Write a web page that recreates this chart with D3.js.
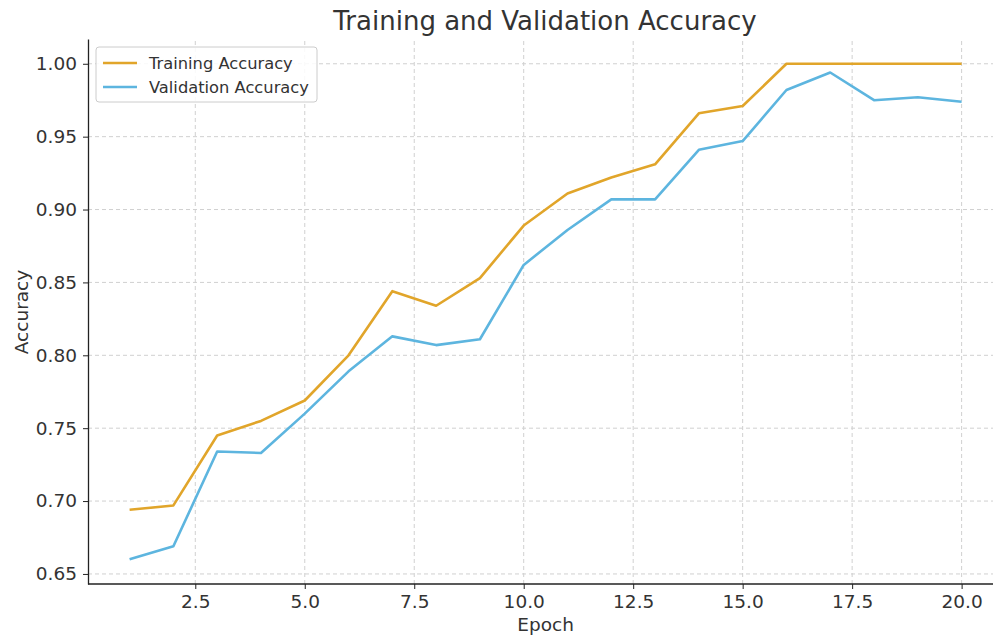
<!DOCTYPE html>
<html>
<head>
<meta charset="utf-8">
<script src="https://cdn.jsdelivr.net/npm/d3@7"></script>
<style>
  body { margin: 0; background: #fff; }
  svg text { font-family: "DejaVu Sans", sans-serif; fill: #333; }
  .grid line { stroke: #d0d0d0; stroke-dasharray: 4,3; stroke-width: 1; }
  .axis path, .axis line { stroke: #222; }
</style>
</head>
<body>
<svg id="chart"></svg>
<script>
// epochs 1..20
const epochs = [1, 2, 3, 4, 5, 6, 7, 8, 9, 10, 11, 12, 13, 14, 15, 16, 17, 18, 19, 20];
const trainAcc = [0.694, 0.697, 0.745, 0.755, 0.769, 0.800, 0.844, 0.834, 0.853, 0.889,
                  0.911, 0.922, 0.931, 0.966, 0.971, 1.000, 1.000, 1.000, 1.000, 1.000];
const valAcc = [0.660, 0.669, 0.734, 0.733, 0.760, 0.789, 0.813, 0.807, 0.811, 0.862,
                0.886, 0.907, 0.907, 0.941, 0.947, 0.982, 0.994, 0.975, 0.977, 0.974];
const xTicks = [2.5, 5.0, 7.5, 10.0, 12.5, 15.0, 17.5, 20.0];
const yTicks = [0.65, 0.70, 0.75, 0.80, 0.85, 0.90, 0.95, 1.00];
const seriesNames = ['Training Accuracy', 'Validation Accuracy'];
const seriesColors = ['#e1a52a', '#5db5df'];

const width = 993, height = 637;

const svg = d3.select('#chart')
    .attr('width', width)
    .attr('height', height);

// matplotlib style 5% padding, right side runs off the picture
const x = d3.scaleLinear().domain([0.05, 20.95]).range([88, 88 + 20.9 * 43.79]);
const y = d3.scaleLinear().domain([0.6431, 1.017]).range([584, 39]);

// grid
const grid = svg.append('g').attr('class', 'grid');
grid.selectAll('.vx')
    .data(xTicks)
    .enter()
    .append('line')
    .attr('x1', d => x(d)).attr('x2', d => x(d))
    .attr('y1', y.range()[0]).attr('y2', y.range()[1]);
grid.selectAll('.hy')
    .data(yTicks)
    .enter()
    .append('line')
    .attr('x1', x.range()[0]).attr('x2', width)
    .attr('y1', d => y(d)).attr('y2', d => y(d));

// lines
const line = d3.line()
    .x((d, i) => x(epochs[i]))
    .y(d => y(d));

[trainAcc, valAcc].forEach((s, k) => {
    svg.append('path')
        .datum(s)
        .attr('fill', 'none')
        .attr('stroke', seriesColors[k])
        .attr('stroke-width', 2.6)
        .attr('stroke-linejoin', 'round')
        .attr('d', line);
});

// axes
const xAxis = svg.append('g')
    .attr('class', 'axis')
    .attr('transform', `translate(0,${y.range()[0]})`)
    .call(d3.axisBottom(x).tickValues(xTicks).tickFormat(d3.format('.1f')).tickSize(5).tickSizeOuter(0).tickPadding(6));
xAxis.select('.domain').attr('d', `M${x.range()[0]},0H${width}`).attr('stroke-width', 1.3);
xAxis.selectAll('text').style('font-size', '18.5px').attr('fill', '#333');

const yAxis = svg.append('g')
    .attr('class', 'axis')
    .attr('transform', `translate(${x.range()[0]},0)`)
    .call(d3.axisLeft(y).tickValues(yTicks).tickFormat(d3.format('.2f')).tickSize(5).tickSizeOuter(0).tickPadding(6));
yAxis.select('.domain').attr('stroke-width', 1.3);
yAxis.selectAll('text').style('font-size', '18.5px').attr('fill', '#333');

// labels
svg.append('text')
    .attr('x', (333 + 757) / 2)
    .attr('y', 30)
    .attr('text-anchor', 'middle')
    .style('font-size', '26px')
    .text('Training and Validation Accuracy');

svg.append('text')
    .attr('x', (x(0.05) + x(20.95)) / 2)
    .attr('y', 631)
    .attr('text-anchor', 'middle')
    .style('font-size', '18.5px')
    .text('Epoch');

svg.append('text')
    .attr('transform', 'translate(28,312) rotate(-90)')
    .attr('text-anchor', 'middle')
    .style('font-size', '18.5px')
    .text('Accuracy');

// legend
const legend = svg.append('g').attr('class', 'legend');
legend.append('rect')
    .attr('x', 96).attr('y', 47)
    .attr('width', 221).attr('height', 55)
    .attr('rx', 3)
    .attr('fill', '#fff')
    .attr('fill-opacity', 0.85)
    .attr('stroke', '#ccc');
seriesNames.forEach((name, i) => {
    const ly = 63 + i * 24;
    legend.append('line')
        .attr('x1', 103).attr('x2', 137)
        .attr('y1', ly).attr('y2', ly)
        .attr('stroke', seriesColors[i])
        .attr('stroke-width', 2.6);
    legend.append('text')
        .attr('x', 149).attr('y', ly + 5.5)
        .style('font-size', '16.3px')
        .text(name);
});
</script>
</body>
</html>
